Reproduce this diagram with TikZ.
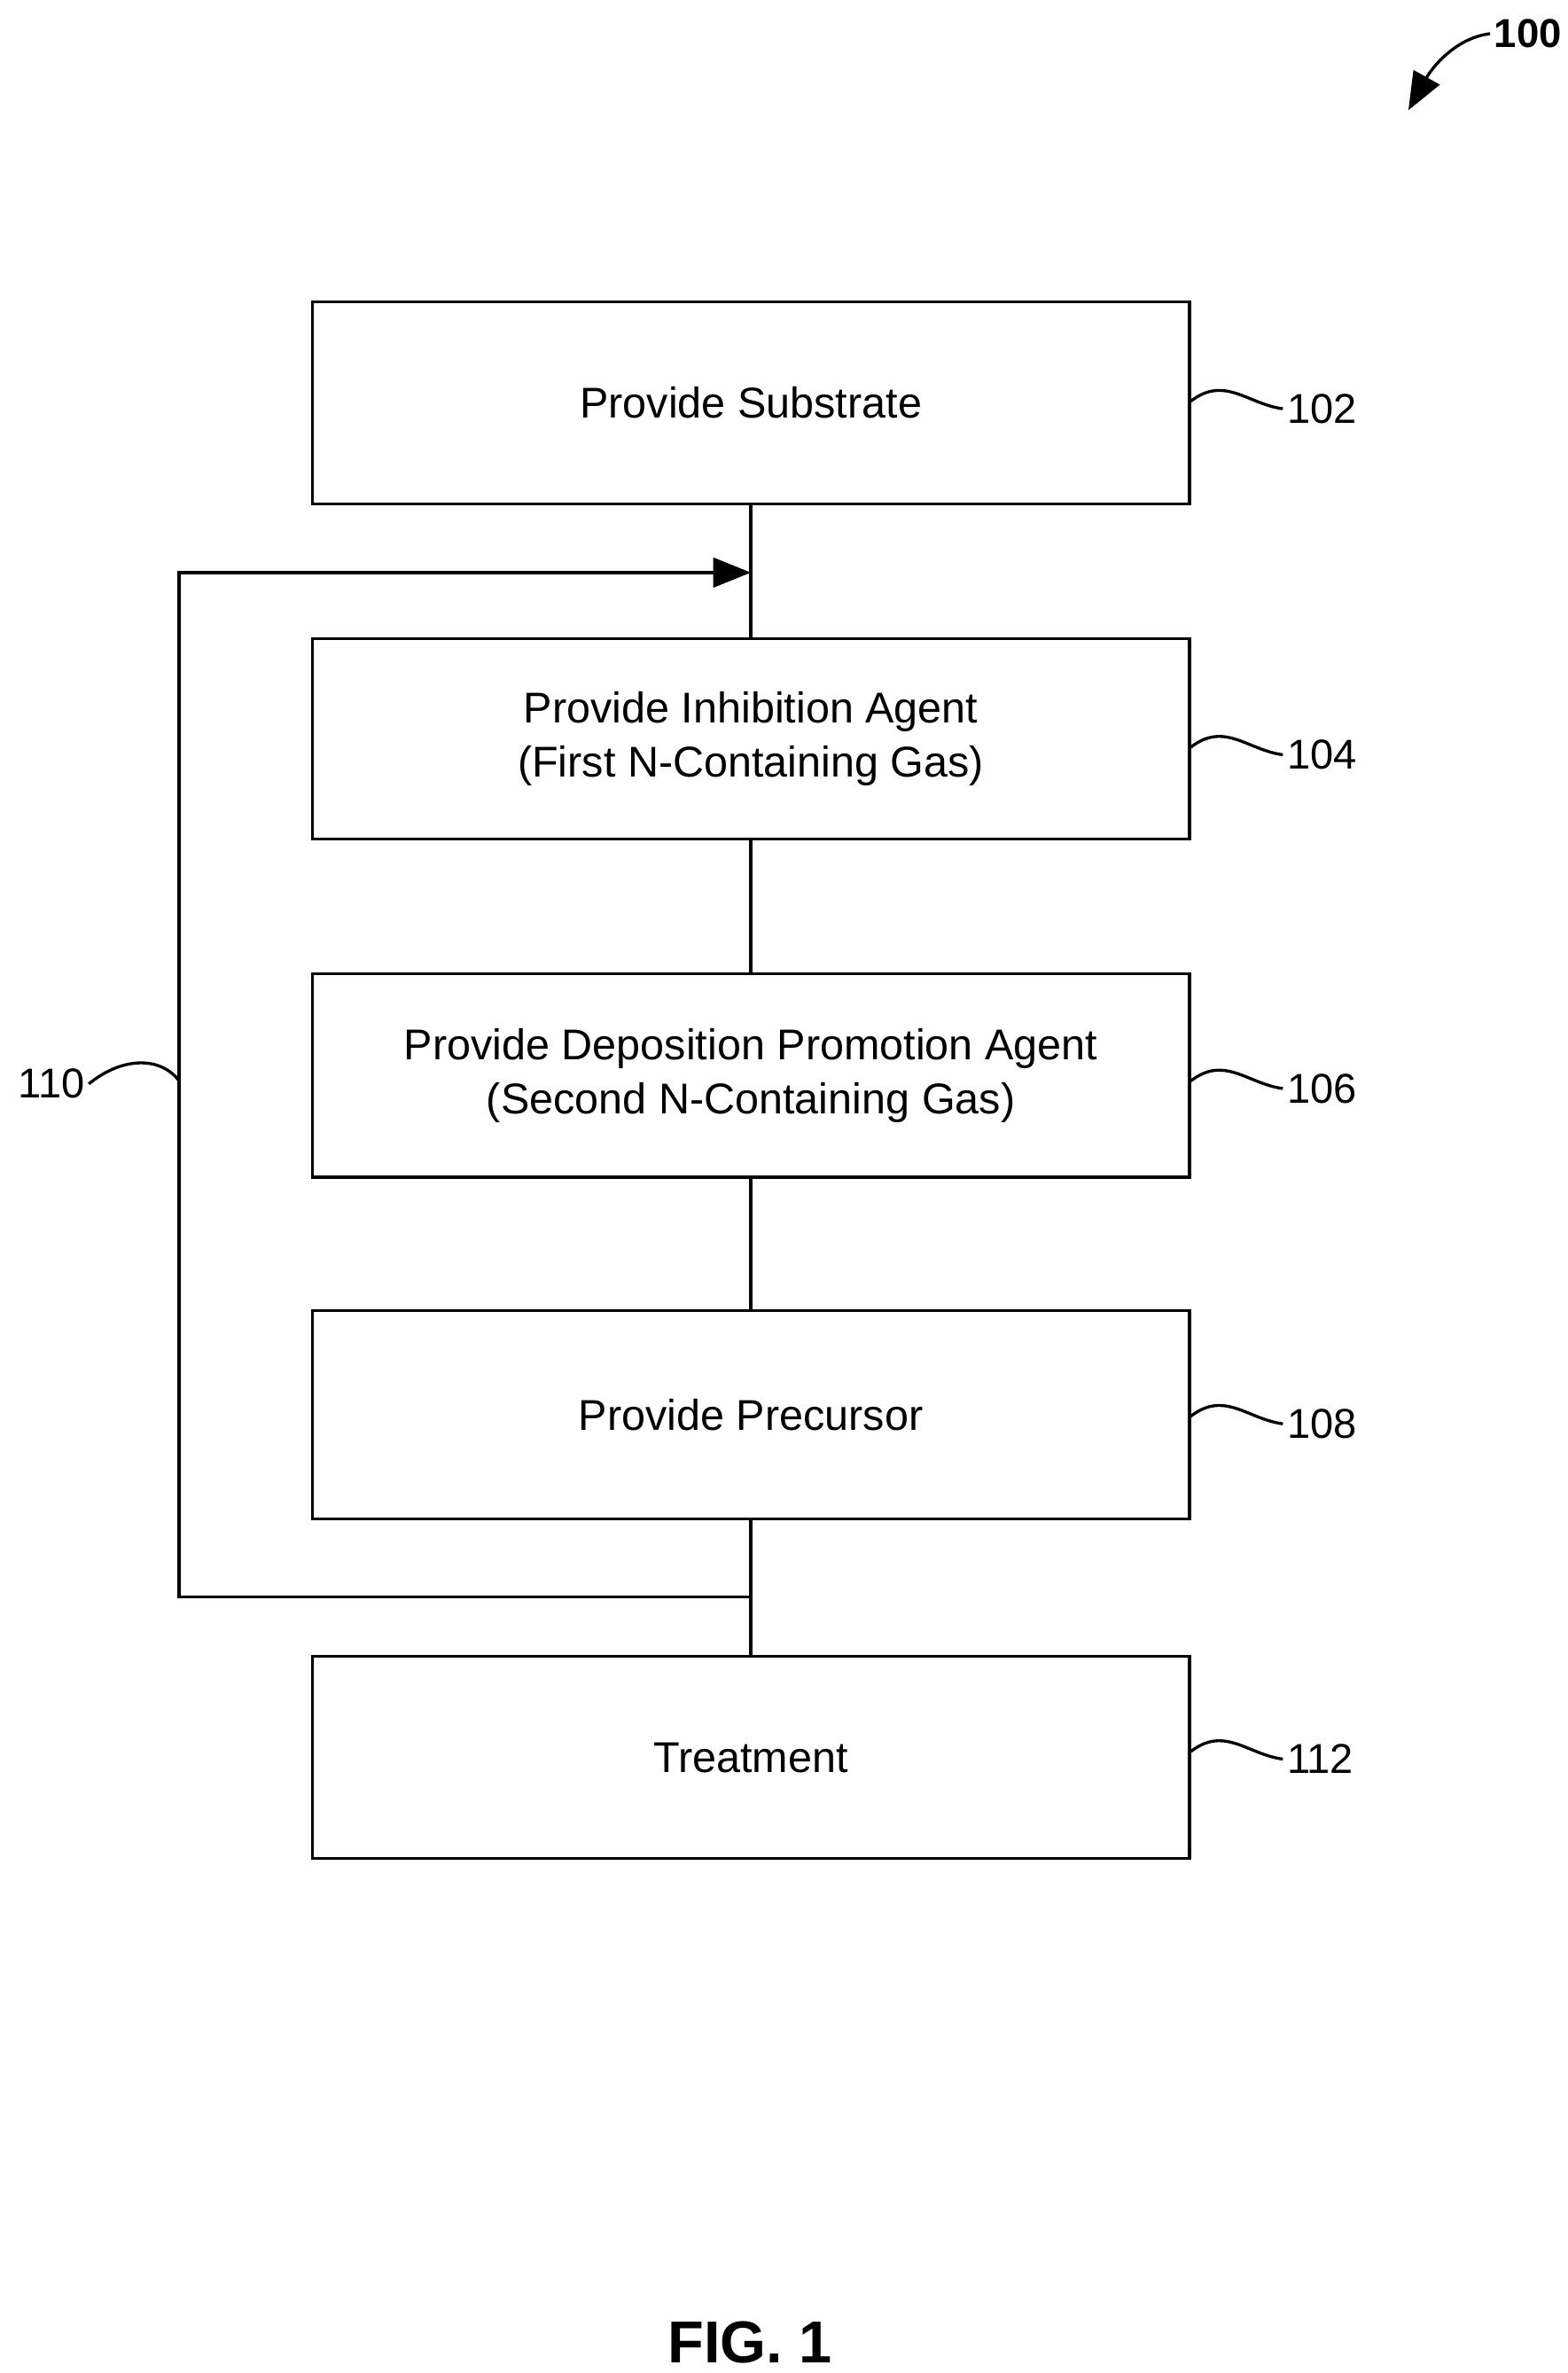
\documentclass[tikz,border=0pt]{standalone}
\usepackage{fontspec}
\setmainfont{Liberation Sans}
\usetikzlibrary{arrows.meta}
\begin{document}
\begin{tikzpicture}[x=0.02cm,y=-0.02cm,line width=1.1pt,
 box/.style={draw,minimum width=11.46cm,align=center,font=\fontsize{16}{20}\selectfont,inner sep=0pt},
 lab/.style={font=\fontsize{15.5}{18}\selectfont,inner sep=1pt},
 arr/.style={-{Triangle[length=14pt,width=11pt]}}]
\useasboundingbox (0,0) rectangle (1024,1550);
\node[box,minimum height=2.64cm] (b1) at (490.5,263) {Provide Substrate};
\node[box,minimum height=2.62cm] (b2) at (490.5,482.5) {Provide Inhibition Agent\\(First N-Containing Gas)};
\node[box,minimum height=2.66cm] (b3) at (490.5,702.5) {Provide Deposition Promotion Agent\\(Second N-Containing Gas)};
\node[box,minimum height=2.72cm] (b4) at (490.5,924) {Provide Precursor};
\node[box,minimum height=2.64cm] (b5) at (490.5,1148) {Treatment};
\draw (b1.south) -- (b2.north);
\draw (b2.south) -- (b3.north);
\draw (b3.south) -- (b4.north);
\draw (b4.south) -- (b5.north);
\coordinate (j) at (490.5,1043);
\coordinate (c1) at (117,1043);
\coordinate (c2) at (117,374);
\coordinate (t) at (490.5,374);
\draw[arr] (j) -- (c1) -- (c2) -- (t);
\foreach \b/\n/\y in {b1/102/267,b2/104/493,b3/106/711,b4/108/930,b5/112/1149}{
 \node[lab,anchor=west] (l\n) at (838,\y) {\n};
 \draw (b1.east |- 0,\y-5) .. controls (800,\y-22) and (815,\y-3) .. (l\n.west);
}
\node[lab,anchor=east] (l110) at (58,708) {110};
\draw (l110.east) .. controls (80,690) and (105,690) .. (117,706);
\node[lab,font=\fontsize{15}{18}\selectfont\bfseries] (l100) at (998,22) {100};
\draw[arr] (l100.west) .. controls (950,25) and (935,45) .. (920,72);
\node[font=\fontsize{22}{26}\selectfont\bfseries] (fig) at (490,1530) {FIG. 1};
\end{tikzpicture}
\end{document}
